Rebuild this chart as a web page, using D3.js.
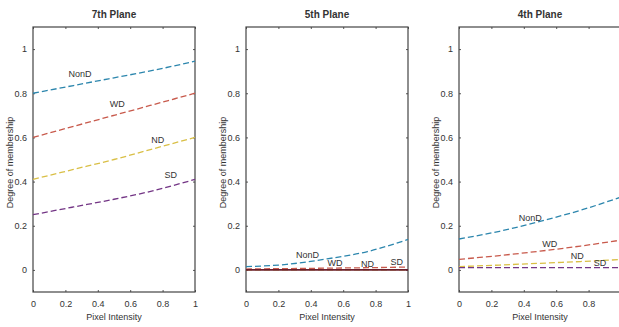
<!DOCTYPE html>
<html>
<head>
<meta charset="utf-8">
<script src="https://cdn.jsdelivr.net/npm/d3@7"></script>
<style>
  body { margin: 0; background: #fff; }
  svg text { font-family: "Liberation Sans Narrow", "Arial Narrow", "Liberation Sans", sans-serif; fill: #333; }
</style>
</head>
<body>
<svg width="619" height="327"></svg>
<script>
// pixel intensity samples
const xs = [0, 0.25, 0.5, 0.75, 1];
const seriesNames = ['NonD', 'WD', 'ND', 'SD'];
const seriesColors = ['#2c86ad', '#c85a4c', '#d9bf45', '#733585'];

const planes = ['7th Plane', '5th Plane', '4th Plane'];

// degree of membership per plane, per series
const plane7 = [
  [0.80, 0.835, 0.870, 0.905, 0.945],
  [0.60, 0.650, 0.700, 0.750, 0.800],
  [0.41, 0.455, 0.500, 0.550, 0.600],
  [0.25, 0.285, 0.320, 0.360, 0.410]
];
const plane5 = [
  [0.015, 0.025, 0.050, 0.083, 0.138],
  [0.004, 0.006, 0.008, 0.010, 0.013],
  [0.000, 0.000, 0.000, 0.000, 0.000],
  [0.000, 0.000, 0.000, 0.000, 0.000]
];
const plane4 = [
  [0.140, 0.175, 0.220, 0.270, 0.330],
  [0.048, 0.065, 0.085, 0.108, 0.135],
  [0.015, 0.022, 0.030, 0.038, 0.047],
  [0.010, 0.010, 0.010, 0.010, 0.010]
];
const planeValues = [plane7, plane5, plane4];

// label anchor points [x, y] in data units
const labels7 = [[0.29, 0.886], [0.52, 0.75], [0.77, 0.59], [0.85, 0.43]];
const labels5 = [[0.38, 0.067], [0.55, 0.03], [0.75, 0.028], [0.93, 0.035]];
const labels4 = [[0.44, 0.237], [0.56, 0.116], [0.73, 0.063], [0.87, 0.03]];
const planeLabels = [labels7, labels5, labels4];

const xTicks = [0, 0.2, 0.4, 0.6, 0.8, 1];
const yTicks = [0, 0.2, 0.4, 0.6, 0.8, 1];

const svg = d3.select('svg');
const panelLeft = [33, 246, 459];
const plotTop = 27, plotBottom = 292, w = 162;

planes.forEach((title, p) => {
  const x = d3.scaleLinear().domain([0, 1]).range([panelLeft[p], panelLeft[p] + w]);
  const y = d3.scaleLinear().domain([-0.1, 1.1]).range([plotBottom, plotTop]);
  const g = svg.append('g');

  // axes with inward ticks on all sides
  const fmt = d => d === 0 || d === 1 ? d3.format('d')(d) : d3.format('.1f')(d);
  const styleAxis = sel => {
    sel.select('.domain').remove();
    sel.selectAll('line').attr('stroke', '#555');
    sel.selectAll('text').style('font-size', '9px').attr('fill', '#444');
  };
  g.append('g').attr('transform', `translate(0,${plotBottom})`)
    .call(d3.axisBottom(x).tickValues(xTicks).tickFormat(fmt).tickSizeInner(-2).tickPadding(9))
    .call(styleAxis);
  g.append('g').attr('transform', `translate(0,${plotTop})`)
    .call(d3.axisTop(x).tickValues(xTicks).tickFormat('').tickSizeInner(-2))
    .call(styleAxis);
  g.append('g').attr('transform', `translate(${panelLeft[p]},0)`)
    .call(d3.axisLeft(y).tickValues(yTicks).tickFormat(fmt).tickSizeInner(-2).tickPadding(6))
    .call(styleAxis);
  g.append('g').attr('transform', `translate(${panelLeft[p] + w},0)`)
    .call(d3.axisRight(y).tickValues(yTicks).tickFormat('').tickSizeInner(-2))
    .call(styleAxis);

  g.append('rect')
    .attr('x', panelLeft[p]).attr('y', plotTop)
    .attr('width', w).attr('height', plotBottom - plotTop)
    .attr('fill', 'none').attr('stroke', '#444').attr('stroke-width', 1.2);

  const line = d3.line().x((d, i) => x(xs[i])).y(d => y(d)).curve(d3.curveMonotoneX);
  planeValues[p].forEach((vals, s) => {
    const solid = p === 1 && s === 3;
    g.append('path')
      .datum(vals)
      .attr('d', line)
      .attr('fill', 'none')
      .attr('stroke', solid ? '#6a1f2c' : seriesColors[s])
      .attr('stroke-width', solid ? 1.6 : 1.3)
      .attr('stroke-dasharray', solid ? null : '6,3');
  });

  planeLabels[p].forEach((pt, s) => {
    g.append('text')
      .attr('x', x(pt[0])).attr('y', y(pt[1]))
      .attr('text-anchor', 'middle')
      .attr('dy', '0.35em')
      .style('font-size', '9px')
      .attr('fill', '#222')
      .text(seriesNames[s]);
  });

  g.append('text')
    .attr('x', panelLeft[p] + w / 2).attr('y', 18)
    .attr('text-anchor', 'middle')
    .style('font-size', '10px').style('font-weight', 'bold')
    .attr('fill', '#222')
    .text(title);

  g.append('text')
    .attr('x', panelLeft[p] + w / 2).attr('y', 320)
    .attr('text-anchor', 'middle')
    .style('font-size', '9px')
    .text('Pixel Intensity');

  g.append('text')
    .attr('transform', `translate(${panelLeft[p] - 20},${(plotTop + plotBottom) / 2 + 3}) rotate(-90)`)
    .attr('text-anchor', 'middle')
    .style('font-size', '9px')
    .text('Degree of membership');
});
</script>
</body>
</html>
